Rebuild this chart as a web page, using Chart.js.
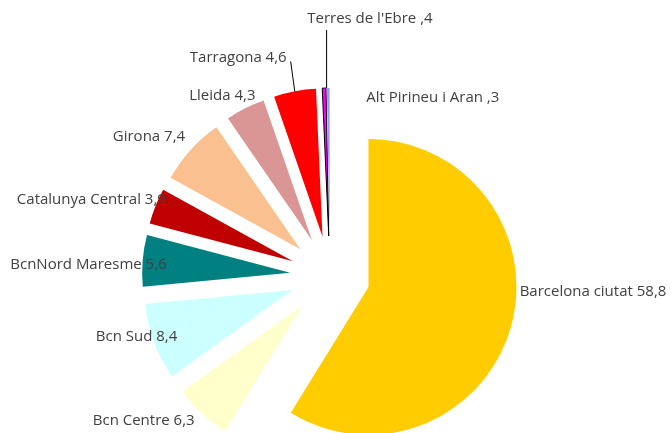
<!DOCTYPE html>
<html>
<head>
<meta charset="utf-8">
<script src="https://cdn.jsdelivr.net/npm/chart.js@4/dist/chart.umd.min.js"></script>
<style>
  html, body { margin: 0; padding: 0; background: #fff; }
  #wrap { width: 672px; height: 433px; }
</style>
</head>
<body>
<div id="wrap"><canvas id="pieChart" width="672" height="433"></canvas></div>
<script>
// regions and their share (%)
var regions = ['Barcelona ciutat', 'Bcn Centre', 'Bcn Sud', 'BcnNord Maresme', 'Catalunya Central',
               'Girona', 'Lleida', 'Tarragona', "Terres de l'Ebre", 'Alt Pirineu i Aran'];
var shares = [58.8, 6.3, 8.4, 5.6, 3.9, 7.4, 4.3, 4.6, 0.4, 0.3];
var shareText = ['58,8', '6,3', '8,4', '5,6', '3,9', '7,4', '4,3', '4,6', ',4', ',3'];

var colors = ['#FFCC00', '#FFFFCC', '#CCFFFF', '#008080', '#C00000',
              '#FAC090', '#D99694', '#FF0000', '#FF00FF', '#9999FF'];
var borders = ['#FFCC00', '#FFFFCC', '#CCFFFF', '#008080', '#C00000',
               '#FAC090', '#D99694', '#FF0000', '#000000', '#9999FF'];
var borderW = [0, 0, 0, 0, 0, 0, 0, 0, 1, 0];

// how far each slice is pulled out (px), and label tweaks
var pullOut = 40;
var labelNudge = [[3, -37], [-3, 3], [29, -7], [30, 5], [16, -4], [-1, -9], [13, -7], [-7, -28], [46, -63], [38, 16]];
var leader = [false, false, false, false, false, false, false, true, true, false];

// explode the slices: move each arc's centre along its middle angle
var explode = {
    id: 'explode',
    afterDatasetUpdate: function (chart, args) {
        args.meta.data.forEach(function (arc) {
            var mid = (arc.startAngle + arc.endAngle) / 2;
            arc.x += Math.cos(mid) * pullOut;
            arc.y += Math.sin(mid) * pullOut;
        });
    }
};

var labelPlugin = {
    id: 'sliceLabels',
    afterDatasetsDraw: function (chart) {
        var ctx = chart.ctx;
        var arcs = chart.getDatasetMeta(0).data;
        ctx.save();
        ctx.font = '15px "Open Sans", sans-serif';
        ctx.fillStyle = '#404040';
        ctx.textBaseline = 'middle';
        arcs.forEach(function (arc, i) {
            var mid = (arc.startAngle + arc.endAngle) / 2;
            var dx = Math.cos(mid), dy = Math.sin(mid);
            var ex = arc.x + dx * arc.outerRadius, ey = arc.y + dy * arc.outerRadius;
            var ax = arc.x + dx * (arc.outerRadius + 6) + labelNudge[i][0];
            var ay = arc.y + dy * (arc.outerRadius + 6) + labelNudge[i][1];
            var txt = regions[i] + ' ' + shareText[i];
            var align = dx > 0.1 ? 'left' : (dx < -0.1 ? 'right' : 'center');
            if (i === 9) align = 'left';
            ctx.textAlign = align;
            ctx.fillText(txt, ax, ay);
            if (leader[i]) {
                var sx, sy;
                if (align === 'right') { sx = ax + 4; sy = ay + 4; }
                else { sx = ex + 2.5; sy = ay + 11; ex = sx; }
                ctx.strokeStyle = '#000';
                ctx.lineWidth = 1;
                ctx.beginPath();
                ctx.moveTo(sx, sy);
                ctx.lineTo(ex, ey);
                ctx.stroke();
            }
        });
        ctx.restore();
    }
};

var ctx = document.getElementById('pieChart').getContext('2d');
var chart = new Chart(ctx, {
    type: 'pie',
    data: {
        labels: regions,
        datasets: [{
            data: shares,
            backgroundColor: colors,
            borderColor: borders,
            borderWidth: borderW,
            hoverOffset: 0,
            clip: false
        }]
    },
    options: {
        responsive: false,
        animation: false,
        events: [],
        radius: 148,
        layout: { padding: { top: 119, bottom: 0, left: 0, right: 12 } },
        plugins: {
            legend: { display: false },
            tooltip: { enabled: false }
        }
    },
    plugins: [explode, labelPlugin]
});
</script>
</body>
</html>
